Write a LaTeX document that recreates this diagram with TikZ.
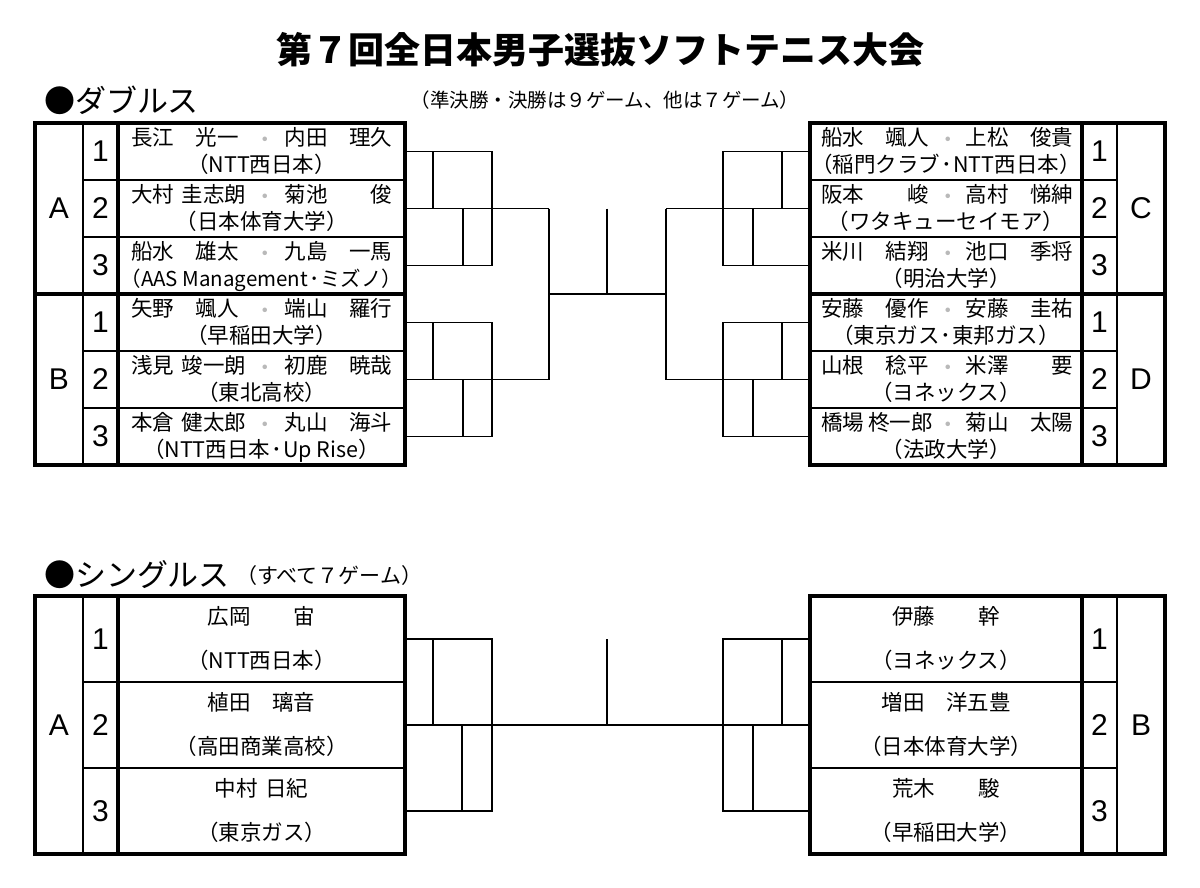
\documentclass[tikz,border=0pt]{standalone}
\usepackage{fontspec}
\setmainfont{Noto Sans CJK JP}
\newfontfamily\numfont{Liberation Sans}
\tikzset{
  every node/.style={inner sep=0pt, outer sep=0pt},
  thickrule/.style={line width=3.5pt},
  thinrule/.style={line width=1.6pt},
  bracketline/.style={line width=1.8pt},
  nametext/.style={font=\fontsize{21.5}{24}\selectfont, text height=0.85em, text depth=0.12em},
  numtext/.style={font=\numfont\fontsize{30}{32}\selectfont},
  midot/.style={font=\fontsize{21.5}{24}\selectfont, text=gray!55},
}
% doubles, left table: #1 name, #2 row top, #3 left player, #4 right player, #5 team
\newcommand\DblLeft[5]{%
  \node[nametext, anchor=west] (#1l) at (131,{#2+19}) {#3};
  \node[midot] (#1d) at (265,{#2+19}) {・};
  \node[nametext, anchor=east] (#1r) at (392,{#2+19}) {#4};
  \node[nametext] (#1t) at (261.5,{#2+46}) {#5};
}
\newcommand\DblRight[5]{%
  \node[nametext, anchor=west] (#1l) at (821,{#2+19}) {#3};
  \node[midot] (#1d) at (948,{#2+19}) {・};
  \node[nametext, anchor=east] (#1r) at (1073,{#2+19}) {#4};
  \node[nametext] (#1t) at (946,{#2+46}) {#5};
}
\newcommand\SglRow[5]{% #1 name, #2 x centre, #3 row top, #4 player, #5 team
  \node[nametext] (#1p) at (#2,{#3+25}) {#4};
  \node[nametext] (#1t) at (#2,{#3+69}) {#5};
}
\newcommand\hdot{\hspace{0.05em}･\hspace{0.05em}}
\begin{document}
\begin{tikzpicture}[x=1pt, y=-1pt]
\fill[white] (0,0) rectangle (1200,887);
\useasboundingbox (0,0) rectangle (1200,887);

% ---------- headings ----------
\node[font=\bfseries\fontsize{36}{40}\selectfont] (title) at (600,50) {第７回全日本男子選抜ソフトテニス大会};
\node[anchor=west, font=\fontsize{31}{34}\selectfont] (dhead) at (44,100) {●ダブルス};
\node[font=\fontsize{19.5}{22}\selectfont] (dnote) at (605,100) {（準決勝・決勝は９ゲーム、他は７ゲーム）};
\node[anchor=west, font=\fontsize{31}{34}\selectfont] (shead) at (44,575) {●シングルス};
\node[anchor=west, font=\fontsize{21}{24}\selectfont] (snote) at (236,576) {（すべて７ゲーム）};

% ---------- doubles, left table ----------
\draw[thinrule] (83,123) -- (83,465);
\foreach \yy in {180,237,351,408} \draw[thinrule] (83,\yy) -- (405,\yy);
\draw[thickrule] (118,123) -- (118,465);
\draw[thickrule] (35,294) -- (405,294);
\draw[thickrule] (35,123) rectangle (405,465);

\node[numtext] (dA) at (59,208.5) {A};
\node[numtext] (dB) at (59,379.5) {B};
\foreach \n/\yy in {1/151.5,2/208.5,3/265.5,1/322.5,2/379.5,3/436.5}
  \node[numtext] at (100.5,\yy) {\n};

\DblLeft{a1}{123}{長江　光一}{内田　理久}{（NTT西日本）}
\DblLeft{a2}{180}{大村\hspace{0.37em}圭志朗}{菊池　　俊}{（日本体育大学）}
\DblLeft{a3}{237}{船水　雄太}{九島　一馬}{\fontsize{20.5}{24}\selectfont（AAS Management\hdot ミズノ）}
\DblLeft{b1}{294}{矢野　颯人}{端山　羅行}{（早稲田大学）}
\DblLeft{b2}{351}{浅見\hspace{0.37em}竣一朗}{初鹿　暁哉}{（東北高校）}
\DblLeft{b3}{408}{本倉\hspace{0.37em}健太郎}{丸山　海斗}{（NTT西日本\hdot Up Rise）}

% ---------- doubles, right table ----------
\draw[thinrule] (1117,123) -- (1117,465);
\foreach \yy in {180,237,351,408} \draw[thinrule] (810,\yy) -- (1117,\yy);
\draw[thickrule] (1082,123) -- (1082,465);
\draw[thickrule] (810,294) -- (1165,294);
\draw[thickrule] (810,123) rectangle (1165,465);

\node[numtext] (dC) at (1141,208.5) {C};
\node[numtext] (dD) at (1141,379.5) {D};
\foreach \n/\yy in {1/151.5,2/208.5,3/265.5,1/322.5,2/379.5,3/436.5}
  \node[numtext] at (1099.5,\yy) {\n};

\DblRight{c1}{123}{船水　颯人}{上松　俊貴}{（稲門クラブ\hdot NTT西日本）}
\DblRight{c2}{180}{阪本　　峻}{高村　悌紳}{（ワタキューセイモア）}
\DblRight{c3}{237}{米川　結翔}{池口　季将}{（明治大学）}
\DblRight{d1}{294}{安藤　優作}{安藤　圭祐}{（東京ガス\hdot 東邦ガス）}
\DblRight{d2}{351}{山根　稔平}{米澤　　要}{（ヨネックス）}
\DblRight{d3}{408}{橋場\hspace{0.2em}柊一郎}{菊山　太陽}{（法政大学）}

% ---------- doubles brackets ----------
\begin{scope}[bracketline]
  % group A
  \draw (405,151.5) -- (492,151.5) -- (492,265.5) -- (405,265.5);
  \draw (405,208.5) -- (549,208.5);
  \draw (433,151.5) -- (433,208.5);
  \draw (463,208.5) -- (463,265.5);
  % group B
  \draw (405,322.5) -- (492,322.5) -- (492,436.5) -- (405,436.5);
  \draw (405,379.5) -- (549,379.5);
  \draw (433,322.5) -- (433,379.5);
  \draw (463,379.5) -- (463,436.5);
  % semifinal / final
  \draw (549,208.5) -- (549,379.5);
  \draw (549,294) -- (666,294);
  \draw (607,208.5) -- (607,294);
  \draw (666,208.5) -- (666,379.5);
  % group C
  \draw (810,151.5) -- (723,151.5) -- (723,265.5) -- (810,265.5);
  \draw (810,208.5) -- (666,208.5);
  \draw (782,151.5) -- (782,208.5);
  \draw (753,208.5) -- (753,265.5);
  % group D
  \draw (810,322.5) -- (723,322.5) -- (723,436.5) -- (810,436.5);
  \draw (810,379.5) -- (666,379.5);
  \draw (782,322.5) -- (782,379.5);
  \draw (753,379.5) -- (753,436.5);
\end{scope}

% ---------- singles, left table ----------
\draw[thinrule] (83,596) -- (83,854);
\foreach \yy in {682,768} \draw[thinrule] (83,\yy) -- (405,\yy);
\draw[thickrule] (118,596) -- (118,854);
\draw[thickrule] (35,596) rectangle (405,854);
\node[numtext] (sA) at (59,725) {A};
\foreach \n/\yy in {1/639,2/725,3/811}
  \node[numtext] at (100.5,\yy) {\n};
\SglRow{sa1}{261.5}{596}{広岡　　宙}{（NTT西日本）}
\SglRow{sa2}{261.5}{682}{植田　璃音}{（高田商業高校）}
\SglRow{sa3}{261.5}{768}{中村\hspace{0.37em}日紀}{（東京ガス）}

% ---------- singles, right table ----------
\draw[thinrule] (1117,596) -- (1117,854);
\foreach \yy in {682,768} \draw[thinrule] (810,\yy) -- (1117,\yy);
\draw[thickrule] (1082,596) -- (1082,854);
\draw[thickrule] (810,596) rectangle (1165,854);
\node[numtext] (sB) at (1141,725) {B};
\foreach \n/\yy in {1/639,2/725,3/811}
  \node[numtext] at (1099.5,\yy) {\n};
\SglRow{sb1}{946}{596}{伊藤　　幹}{（ヨネックス）}
\SglRow{sb2}{946}{682}{増田　洋五豊}{（日本体育大学）}
\SglRow{sb3}{946}{768}{荒木　　駿}{（早稲田大学）}

% ---------- singles brackets ----------
\begin{scope}[bracketline]
  \draw (405,639) -- (492,639) -- (492,811) -- (405,811);
  \draw (405,725) -- (810,725);
  \draw (433,639) -- (433,725);
  \draw (462,725) -- (462,811);
  \draw (607,639) -- (607,725);
  \draw (810,639) -- (723,639) -- (723,811) -- (810,811);
  \draw (782,639) -- (782,725);
  \draw (753,725) -- (753,811);
\end{scope}
\end{tikzpicture}
\end{document}
